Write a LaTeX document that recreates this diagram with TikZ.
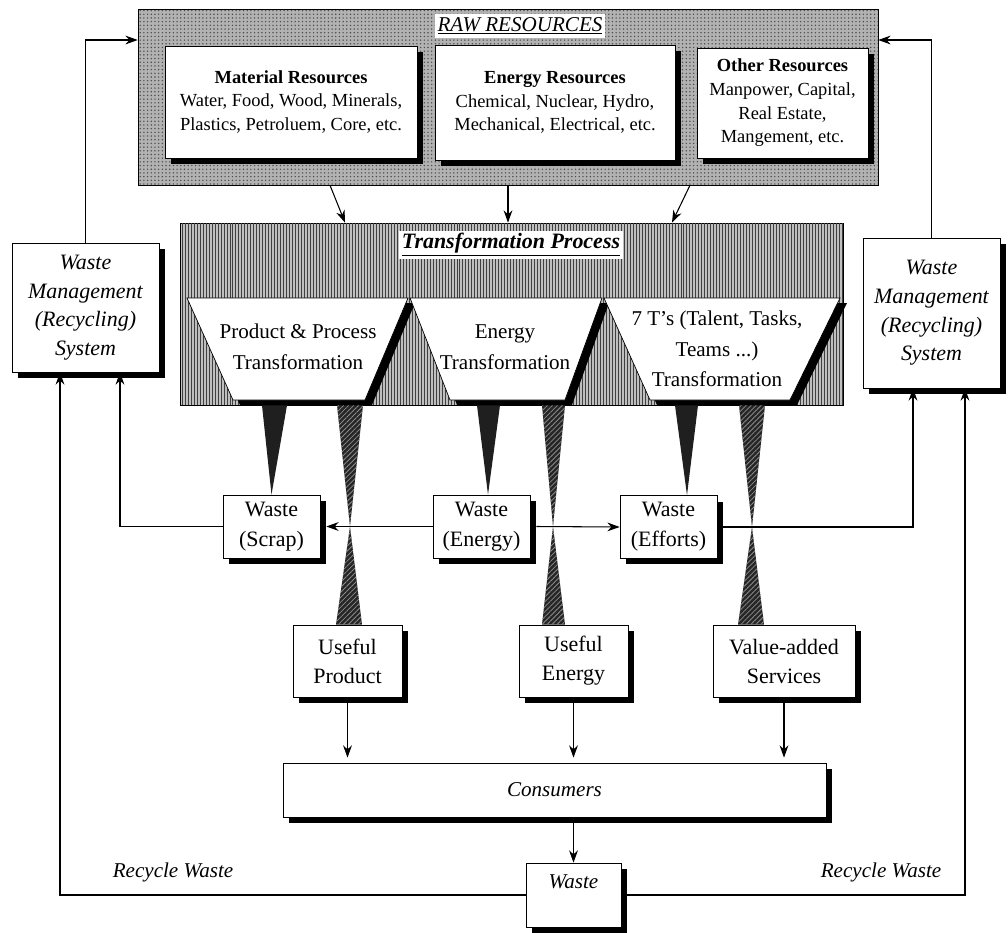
\documentclass[tikz,border=0pt]{standalone}
\usepackage{fontspec}
\setmainfont{Liberation Serif}
\usetikzlibrary{arrows.meta, positioning, shadows, patterns.meta}

\begin{document}
\begin{tikzpicture}[
    x=0.02cm, y=-0.02cm,
    every node/.style={font=\fontsize{12}{17}\selectfont},
    shadowed/.style={drop shadow={shadow xshift=0.12cm, shadow yshift=-0.12cm, fill=black, opacity=1}},
    rawbox/.style={draw, fill=black!30, postaction={pattern={Dots[distance=2.1pt, radius=0.45pt]}, pattern color=black!70}},
    transbox/.style={draw, fill=black!25, postaction={pattern={Lines[angle=90, distance=1.7pt, line width=0.55pt]}, pattern color=black!75}},
    tag/.style={fill=white, inner sep=1.5pt},
    resbox/.style={draw, fill=white, shadowed, align=center, inner sep=0pt, font=\fontsize{10.5}{13.5}\selectfont},
    wmbox/.style={draw, fill=white, shadowed, align=center, inner sep=0pt, font=\fontsize{12.5}{16.3}\selectfont\itshape},
    wastebox/.style={draw, fill=white, shadowed, align=center, inner sep=0pt, minimum width=1.94cm, minimum height=1.26cm, font=\fontsize{12.5}{17}\selectfont},
    outbox/.style={draw, fill=white, shadowed, align=center, inner sep=0pt, minimum height=1.44cm, font=\fontsize{12.5}{16.5}\selectfont},
    trapbox/.style={align=center, font=\fontsize{12}{17.5}\selectfont},
    lbl/.style={font=\fontsize{12}{14}\selectfont\itshape},
    wastecone/.style={fill=black!88},
    usecone/.style={fill=black!85, postaction={pattern={Lines[angle=45, distance=2pt, line width=0.45pt]}, pattern color=black!45}},
    arrow/.style={-{Stealth[length=7pt, width=5pt]}, line width=0.6pt}
]
\useasboundingbox (0,0) rectangle (1008,933);

% raw resources
\node[rawbox, minimum width=14.8cm, minimum height=3.52cm] (raw) at (508,97) {};
\node[tag, font=\fontsize{12}{14}\selectfont\itshape] (rawtag) at (520,26) {\underline{RAW RESOURCES}};
\node[resbox, minimum width=5.04cm, minimum height=2.24cm] (mat) at (291,102) {\textbf{Material Resources}\\Water, Food, Wood, Minerals,\\Plastics, Petroluem, Core, etc.};
\node[resbox, minimum width=4.8cm, minimum height=2.3cm] (ene) at (555,102.5) {\textbf{Energy Resources}\\Chemical, Nuclear, Hydro,\\Mechanical, Electrical, etc.};
\node[resbox, minimum width=3.42cm, minimum height=2.2cm] (oth) at (782.5,103) {\textbf{Other Resources}\\Manpower, Capital,\\Real Estate,\\Mangement, etc.};

% transformation process
\node[transbox, minimum width=13.26cm, minimum height=3.64cm] (trans) at (511.5,314) {};
\node[tag, font=\fontsize{12.5}{15}\selectfont\bfseries\itshape] (transtag) at (511,245) {\underline{Transformation Process}};
\foreach \a/\b/\c/\d in {187/408/365/233, 410/602/565/450, 604/840/790/650}{
  \fill[black] (\a+7,303) -- (\b+7,303) -- (\c+7,405) -- (\d+7,405) -- cycle;
  \draw[fill=white] (\a,298) -- (\b,298) -- (\c,400) -- (\d,400) -- cycle;
}
\node[trapbox] (pp) at (298,347) {Product \& Process\\Transformation};
\node[trapbox] (et) at (505,347) {Energy\\Transformation};
\node[trapbox] (tt) at (717,349) {7 T's (Talent, Tasks,\\Teams ...)\\Transformation};

% recycling systems
\node[wmbox, minimum width=2.94cm, minimum height=2.58cm] (wml) at (85.5,307.5) {Waste\\Management\\(Recycling)\\System};
\node[wmbox, minimum width=2.74cm, minimum height=3cm] (wmr) at (931.5,313) {Waste\\Management\\(Recycling)\\System};

% outputs
\node[wastebox] (scrap) at (271.5,526.5) {Waste\\(Scrap)};
\node[wastebox] (wen) at (481.5,526.5) {Waste\\(Energy)};
\node[wastebox] (eff) at (668.5,527) {Waste\\(Efforts)};
\node[outbox, minimum width=2.18cm] (up) at (347.5,661) {Useful\\Product};
\node[outbox, minimum width=2.18cm] (ue) at (573.5,661) {Useful\\Energy};
\node[outbox, minimum width=2.84cm] (va) at (784,661) {Value-added\\Services};
\node[outbox, minimum width=10.86cm, minimum height=1.08cm, font=\fontsize{12}{14}\selectfont\itshape] (cons) at (554.5,790) {Consumers};
\node[outbox, minimum width=1.9cm, minimum height=1.28cm, text depth=0.52cm, font=\fontsize{12}{14}\selectfont\itshape] (waste) at (573.5,895) {Waste};
\node[lbl] (rwl) at (173,872) {Recycle Waste};
\node[lbl] (rwr) at (881,872) {Recycle Waste};

% cones
\fill[wastecone] (262,0 |- trans.south) -- (287,0 |- trans.south) -- (scrap.north) -- cycle;
\fill[wastecone] (477,0 |- trans.south) -- (500,0 |- trans.south) -- ([xshift=0.13cm]wen.north) -- cycle;
\fill[wastecone] (675,0 |- trans.south) -- (698,0 |- trans.south) -- ([xshift=0.37cm]eff.north) -- cycle;
\fill[usecone] (337,0 |- trans.south) -- (363,0 |- trans.south) -- (350,0 |- scrap.center) -- (362,0 |- up.north) -- (336,0 |- up.north) -- (350,0 |- scrap.center) -- cycle;
\fill[usecone] (542,0 |- trans.south) -- (565,0 |- trans.south) -- (553,0 |- wen.center) -- (565,0 |- ue.north) -- (542,0 |- ue.north) -- (553,0 |- wen.center) -- cycle;
\fill[usecone] (739,0 |- trans.south) -- (765,0 |- trans.south) -- (752,0 |- eff.center) -- (764,0 |- va.north) -- (738,0 |- va.north) -- (752,0 |- eff.center) -- cycle;

% connectors
\draw[arrow] ([xshift=-3.56cm]raw.south) -- ([xshift=-3.33cm]trans.north);
\draw[arrow] (raw.south) -- (raw.south |- trans.north);
\draw[arrow] ([xshift=3.64cm]raw.south) -- ([xshift=3.21cm]trans.north);
\draw[arrow] (wml.north) |- ([yshift=1.14cm]raw.west);
\draw[arrow] (wmr.north) |- ([yshift=1.14cm]raw.east);
\draw[arrow] (wen.west) -- ([xshift=0.12cm]scrap.east);
\draw[arrow] ([xshift=0.12cm]wen.east) -- (eff.west);
\draw[arrow] (scrap.west) -| ([xshift=0.69cm]wml.south);
\draw[arrow] ([xshift=0.12cm]eff.east) -| ([xshift=-0.37cm]wmr.south);
\draw[arrow] (up.south) -- ([yshift=0.1cm]up.south |- cons.north);
\draw[arrow] (ue.south) -- ([yshift=0.1cm]ue.south |- cons.north);
\draw[arrow] (va.south) -- ([yshift=0.1cm]va.south |- cons.north);
\draw[arrow] (cons.south -| waste.north) -- (waste.north);
\draw[arrow] (waste.west) -| ([xshift=-0.51cm]wml.south);
\draw[arrow] ([xshift=0.12cm]waste.east) -| ([xshift=0.67cm]wmr.south);
\end{tikzpicture}
\end{document}
